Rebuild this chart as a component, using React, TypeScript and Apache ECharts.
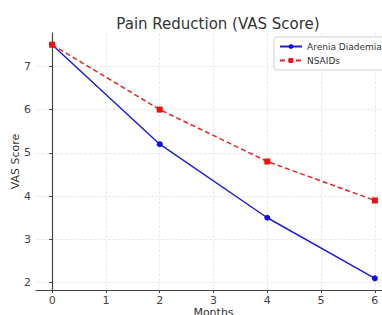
import React, { useEffect, useRef } from "react";
import * as echarts from "echarts";

const months = [0, 2, 4, 6];
const areniaValues = [7.5, 5.2, 3.5, 2.1];
const nsaidValues = [7.5, 6.0, 4.8, 3.9];
const titleText = "Pain Reduction (VAS Score)";
const xName = "Months";
const yName = "VAS Score";

export default function App() {
  const ref = useRef<HTMLDivElement>(null);
  useEffect(() => {
    if (!ref.current) return;
    const chart = echarts.init(ref.current, undefined, { renderer: "svg" });
    const font = "DejaVu Sans";
    chart.setOption({
      animation: false,
      backgroundColor: "#ffffff",
      textStyle: { fontFamily: font },
      title: {
        text: titleText,
        left: 213,
        top: 11,
        textAlign: "center",
        textStyle: { fontFamily: font, fontSize: 15, fontWeight: "normal", color: "#333" },
      },
      legend: {
        orient: "vertical",
        left: 274,
        top: 37,
        padding: [5, 8, 5, 5],
        itemGap: 5,
        itemWidth: 22,
        itemHeight: 6,
        backgroundColor: "rgba(255,255,255,0.85)",
        borderColor: "#d0d0d0",
        borderWidth: 1,
        borderRadius: 3,
        textStyle: { fontFamily: font, fontSize: 9, color: "#333" },
        data: ["Arenia Diademia", "NSAIDs"],
      },
      grid: { left: 36, top: 33, right: 9, bottom: 25, containLabel: false, outerBoundsMode: "none" },
      xAxis: {
        type: "value",
        min: -0.3,
        max: 6.3,
        name: xName,
        nameLocation: "middle",
        nameGap: 17,
        nameMoveOverlap: false,
        nameTextStyle: { fontFamily: font, fontSize: 11, color: "#333" },
        axisLine: { show: true, lineStyle: { color: "#444", width: 1.2 } },
        axisTick: { show: true, length: 3, lineStyle: { color: "#444" } },
        axisLabel: { fontFamily: font, fontSize: 11, color: "#444", margin: 5, showMinLabel: false, showMaxLabel: false },
        splitLine: { show: true, showMinLine: false, showMaxLine: false, lineStyle: { color: "#e3e3e3", width: 0.8, type: "dashed" } },
      },
      yAxis: {
        type: "value",
        min: 1.83,
        max: 7.77,
        name: yName,
        nameLocation: "middle",
        nameGap: 15,
        nameMoveOverlap: false,
        nameRotate: 90,
        nameTextStyle: { fontFamily: font, fontSize: 11, color: "#333" },
        axisLine: { show: true, lineStyle: { color: "#444", width: 1.2 } },
        axisTick: { show: true, length: 3, lineStyle: { color: "#444" } },
        axisLabel: { fontFamily: font, fontSize: 11, color: "#444", margin: 5, showMinLabel: false, showMaxLabel: false },
        splitLine: { show: true, showMinLine: false, showMaxLine: false, lineStyle: { color: "#e3e3e3", width: 0.8, type: "dashed" } },
      },
      series: [
        {
          name: "Arenia Diademia",
          type: "line",
          data: months.map((m, i) => [m, areniaValues[i]]),
          symbol: "circle",
          symbolSize: 6,
          lineStyle: { color: "#1f1fd6", width: 1.5 },
          itemStyle: { color: "#1010e0" },
        },
        {
          name: "NSAIDs",
          type: "line",
          data: months.map((m, i) => [m, nsaidValues[i]]),
          symbol: "rect",
          symbolSize: 6,
          lineStyle: { color: "#ee2222", width: 1.5, type: [5, 3] },
          itemStyle: { color: "#ee1111" },
        },
      ],
    });
    return () => chart.dispose();
  }, []);
  return (
    <div style={{ position: "fixed", left: 0, top: 0, width: 382, height: 315, overflow: "hidden" }}>
      <div ref={ref} style={{ width: 400, height: 315 }} />
    </div>
  );
}
